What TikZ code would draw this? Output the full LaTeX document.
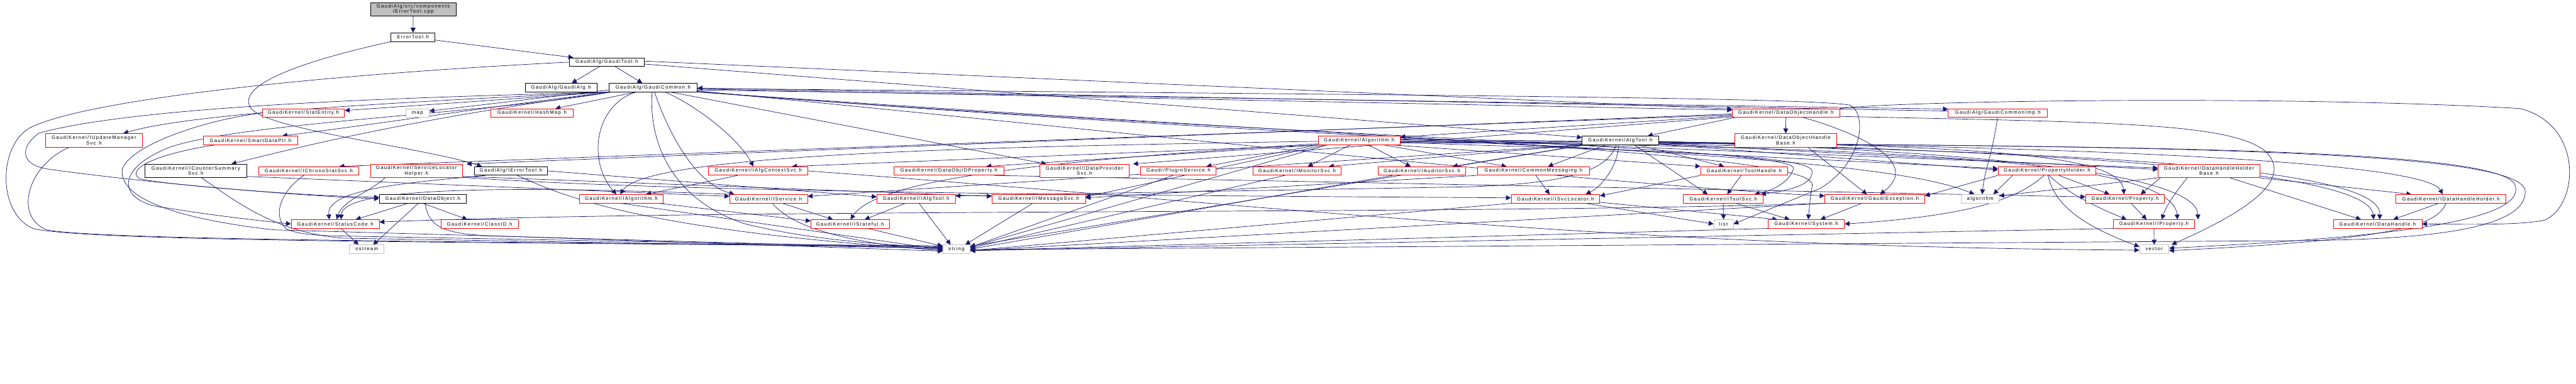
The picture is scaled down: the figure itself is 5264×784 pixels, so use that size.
\documentclass[tikz,border=0pt]{standalone}
\usepackage{fontspec}
\usepackage{tikz}
\usetikzlibrary{arrows.meta, calc, positioning, backgrounds}
\newfontfamily\gfont[LetterSpace=16]{Liberation Sans}
\definecolor{eBlue}{HTML}{191970}
\definecolor{nRed}{HTML}{FF0000}
\definecolor{nGrey}{HTML}{BFBFBF}

\begin{document}
\begin{tikzpicture}[x=1pt, y=-1pt,
    inc/.style={draw=eBlue, line width=0.9pt, -{Triangle[length=10pt, width=10pt]}},
    hdr/.style={draw=nRed, line width=0.9pt, fill=white, inner sep=0pt, minimum height=17.5pt,
                align=center, font=\gfont\fontsize{10}{10.7}\selectfont},
    hdrk/.style={hdr, draw=black},
    hstd/.style={hdr, draw=nGrey},
    hroot/.style={hdr, draw=black, fill=nGrey},
    two/.style={minimum height=27.5pt}]
  \useasboundingbox (0,0) rectangle (5264,784);

  % top of the graph
  \node[hroot, two, minimum width=175pt] (cpp) at (844.5,19) {GaudiAlg/src/components\\/ErrorTool.cpp};
  \node[hdrk, minimum width=90pt]  (eth)   at (844,76)     {ErrorTool.h};
  \node[hdrk, minimum width=152pt] (gtool) at (1240,127)   {GaudiAlg/GaudiTool.h};
  \node[hdrk, minimum width=147pt] (galg)  at (1146.5,179) {GaudiAlg/GaudiAlg.h};
  \node[hdrk, minimum width=181pt] (gcom)  at (1334.5,179) {GaudiAlg/GaudiCommon.h};

  \node[hdr, minimum width=168pt]  (statent) at (620,231)    {GaudiKernel/StatEntity.h};
  \node[hstd, minimum width=48pt]  (map)     at (853,231)    {map};
  \node[hdr, minimum width=168pt]  (hashmap) at (1087,231)   {GaudiKernel/HashMap.h};
  \node[hdr, minimum width=219pt]  (doh)     at (3649.5,231) {GaudiKernel/DataObjectHandle.h};
  \node[hdr, minimum width=203pt]  (gcimp)   at (4082.5,231) {GaudiAlg/GaudiCommonImp.h};

  \node[hdr, two, minimum width=198pt] (iupd) at (192,287) {GaudiKernel/IUpdateManager\\Svc.h};
  \node[hdr, minimum width=192pt]  (sdp)     at (512,287)    {GaudiKernel/SmartDataPtr.h};
  \node[hdr, minimum width=167pt]  (algo)    at (2777.5,287) {GaudiKernel/Algorithm.h};
  \node[hdrk, minimum width=156pt] (algtool) at (3311,287)   {GaudiKernel/AlgTool.h};
  \node[hdr, two, minimum width=208pt] (dohb) at (3649,287) {GaudiKernel/DataObjectHandle\\Base.h};

  % middle rows
  \node[hdrk, two, minimum width=208pt] (icss) at (400,349.5) {GaudiKernel/ICounterSummary\\Svc.h};
  \node[hdr, minimum width=204pt]  (ichrono) at (631,349.5)  {GaudiKernel/IChronoStatSvc.h};
  \node[hdr, two, minimum width=188pt] (slh) at (851,349.5)  {GaudiKernel/ServiceLocator\\Helper.h};
  \node[hdrk, minimum width=150pt] (ierr)    at (1044,349.5) {GaudiAlg/IErrorTool.h};
  \node[hdr, minimum width=203pt]  (iactx)   at (1549.5,349.5) {GaudiKernel/IAlgContextSvc.h};
  \node[hdr, minimum width=224pt]  (doidp)   at (1939,349.5) {GaudiKernel/DataObjIDProperty.h};
  \node[hdr, two, minimum width=182pt] (idps) at (2216,349.5) {GaudiKernel/IDataProvider\\Svc.h};
  \node[hdr, minimum width=154pt]  (plugin)  at (2408,349.5) {Gaudi/PluginService.h};
  \node[hdr, minimum width=181pt]  (imon)    at (2650.5,349.5) {GaudiKernel/IMonitorSvc.h};
  \node[hdr, minimum width=179pt]  (iaud)    at (2905.5,349.5) {GaudiKernel/IAuditorSvc.h};
  \node[hdr, minimum width=229pt]  (cmsg)    at (3133.5,349.5) {GaudiKernel/CommonMessaging.h};
  \node[hdr, minimum width=178pt]  (thdl)    at (3564,349.5) {GaudiKernel/ToolHandle.h};
  \node[hdr, minimum width=200pt]  (propholder) at (4183,349.5) {GaudiKernel/PropertyHolder.h};
  \node[hdr, two, minimum width=208pt] (dhhb) at (4514,349.5) {GaudiKernel/DataHandleHolder\\Base.h};

  \node[hdrk, minimum width=178pt] (dobj)     at (864,406.5)    {GaudiKernel/DataObject.h};
  \node[hdr, minimum width=171pt]  (ialg)     at (1269.5,406.5) {GaudiKernel/IAlgorithm.h};
  \node[hdr, minimum width=159pt]  (isvc)     at (1570.5,406.5) {GaudiKernel/IService.h};
  \node[hdr, minimum width=160pt]  (ialgtool) at (1872,406.5)   {GaudiKernel/IAlgTool.h};
  \node[hdr, minimum width=191pt]  (imsg)     at (2122.5,406.5) {GaudiKernel/IMessageSvc.h};
  \node[hdr, minimum width=181pt]  (isvcloc)  at (3178.5,406.5) {GaudiKernel/ISvcLocator.h};
  \node[hdr, minimum width=163pt]  (itoolsvc) at (3521.5,406.5) {GaudiKernel/IToolSvc.h};
  \node[hdr, minimum width=204pt]  (gexc)     at (3831,406.5)   {GaudiKernel/GaudiException.h};
  \node[hstd, minimum width=77pt]  (algorithm) at (4046.5,406.5) {algorithm};
  \node[hdr, minimum width=161pt]  (prop)     at (4342.5,406.5) {GaudiKernel/Property.h};
  \node[hdr, minimum width=225pt]  (idhh)     at (5008.5,406.5) {GaudiKernel/IDataHandleHolder.h};

  % bottom rows
  \node[hdr, minimum width=180pt]  (sc)     at (685,458)    {GaudiKernel/StatusCode.h};
  \node[hdr, minimum width=158pt]  (clid)   at (980,458)    {GaudiKernel/ClassID.h};
  \node[hdr, minimum width=160pt]  (istate) at (1737,458)   {GaudiKernel/IStateful.h};
  \node[hstd, minimum width=40pt]  (list)   at (3522,458)   {list};
  \node[hdr, minimum width=156pt]  (sys)    at (3691,458)   {GaudiKernel/System.h};
  \node[hdr, minimum width=165pt]  (iprop)  at (4401.5,458) {GaudiKernel/IProperty.h};
  \node[hdr, minimum width=181pt]  (dh)     at (4858.5,458) {GaudiKernel/DataHandle.h};

  \node[hstd, minimum width=71pt]  (ostream) at (749.5,509.5) {ostream};
  \node[hstd, minimum width=55pt]  (string)  at (1954.5,509.5) {string};
  \node[hstd, minimum width=60pt]  (vector)  at (4402,509.5) {vector};

  \begin{scope}[on background layer]
    % source file and GaudiTool
    \draw[inc] (cpp) -- (eth);
    \draw[inc] ($(eth.east)+(0,6)$) -- ($(gtool.north west)+(8,0)$);
    \draw[inc] (eth.south west) .. controls (640,120) and (480,170) .. (512,220)
               .. controls (540,265) and (860,300) .. ($(ierr.north west)+(16,0)$);
    \draw[inc] ($(gtool.south)+(-15,0)$) -- ($(galg.north)+(22,0)$);
    \draw[inc] ($(gtool.south)+(17,0)$) -- ($(gcom.north)+(-22,0)$);
    \draw[inc] ($(gtool.east)+(0,4)$) -- ($(algtool.west)+(0,-6)$);
    \draw[inc] ($(gtool.east)+(0,-2)$) -- ($(doh.west)+(0,-8)$);
    \draw[inc] (gtool.west) .. controls (700,150) and (180,200) .. (60,262)
               .. controls (-5,300) and (-5,440) .. (70,468)
               .. controls (200,495) and (1000,495) .. ($(string.west)+(0,-5)$);

    % GaudiCommon
    \draw[inc] ($(gcom.south west)+(2,0)$) -- ($(statent.east)+(0,-5)$);
    \draw[inc] ($(gcom.west)+(0,5)$) -- ($(map.east)+(0,-4)$);
    \draw[inc] ($(gcom.south)+(-34,0)$) -- ($(hashmap.north)+(48,0)$);
    \draw[inc] ($(gcom.south west)+(4,0)$) .. controls (1000,218) and (800,250) .. ($(sdp.north)+(65,0)$);
    \draw[inc] ($(gcom.south west)+(6,0)$) .. controls (1000,222) and (760,262) .. ($(icss.north)+(73,0)$);
    \draw[inc] ($(gcom.south west)+(1,0)$) .. controls (900,205) and (400,228) .. ($(iupd.north)+(60,0)$);
    \draw[inc] ($(gcom.south west)+(3,0)$) .. controls (900,198) and (300,212) .. (80,272)
               .. controls (40,300) and (40,338) .. (100,346)
               .. controls (300,374) and (600,400) .. (dobj.west);
    \draw[inc] ($(gcom.south west)+(5,0)$) .. controls (1000,232) and (500,250) .. (350,300)
               .. controls (230,345) and (240,415) .. (340,425)
               .. controls (430,440) and (520,450) .. (sc.west);
    \draw[inc] ($(gcom.south)+(25,0)$) .. controls (1430,220) and (1510,285) .. ($(iactx.north)+(-10,0)$);
    \draw[inc] ($(gcom.south)+(3,0)$) .. controls (1365,270) and (1420,375) .. ($(isvc.north)+(-70,0)$);
    \draw[inc] ($(gcom.south)+(-35,0)$) .. controls (1215,215) and (1200,330) .. ($(ialg.north)+(-10,0)$);
    \draw[inc] ($(gcom.south)+(-2,0)$) .. controls (1325,300) and (1380,410) .. (1520,457)
               .. controls (1650,490) and (1800,500) .. ($(string.west)+(0,-3)$);
    \draw[inc] ($(gcom.south)+(35,0)$) -- ($(idps.north)+(-78,0)$);
    \draw[inc] ($(gcom.east)+(0,3)$) -- ($(doh.west)+(0,-6)$);
    \draw[inc] ($(gcom.east)+(0,5)$) -- ($(gcimp.west)+(0,-8)$);
    \draw[inc] ($(gcom.east)+(0,7)$) .. controls (2200,260) and (3300,380) .. ($(gexc.west)+(0,-6)$);
    \draw[inc] ($(gcom.east)+(0,8)$) .. controls (2800,300) and (3800,300) .. ($(algorithm.north)+(-12,0)$);
    \draw[inc] ($(gcom.east)+(0,9)$) .. controls (2600,280) and (3680,300) .. (3665,345)
               .. controls (3655,375) and (3620,390) .. ($(itoolsvc.north east)+(-18,0)$);
    \draw[inc] ($(gcom.east)+(0,9)$) .. controls (2800,285) and (3720,310) .. (3703,380)
               .. controls (3698,410) and (3697,430) .. ($(sys.north)+(4,0)$);
    \draw[inc] ($(gcom.east)+(0,2)$) .. controls (3000,195) and (3700,200) .. (3780,215)
               .. controls (3815,230) and (3810,330) .. (3720,385) -- (list.east);

    % GaudiCommonImp
    \draw[inc] ($(gcimp.west)+(0,-4)$) -- ($(gcom.east)+(0,1)$);
    \draw[inc] ($(gcimp.south)+(-1,0)$) .. controls (4075,300) and (4055,350) .. ($(algorithm.north)+(4,0)$);

    % DataObjectHandle
    \draw[inc] (doh) -- (dohb);
    \draw[inc] ($(doh.west)+(0,6)$) -- ($(algo.east)+(0,-7)$);
    \draw[inc] ($(doh.south west)+(6,0)$) -- ($(algtool.north)+(56,0)$);
    \draw[inc] ($(doh.west)+(0,8)$) -- ($(idps.north east)+(8,0)$);
    \draw[inc] ($(doh.west)+(0,2)$) -- ($(slh.north east)+(8,0)$);
    \draw[inc] ($(doh.west)+(0,4)$) -- ($(ichrono.north east)+(-40,0)$);
    \draw[inc] ($(doh.south)+(35,0)$) .. controls (3790,270) and (3930,330) .. ($(gexc.north)+(11,0)$);
    \draw[inc] (doh.north east) .. controls (3900,205) and (4700,195) .. (5150,222)
               .. controls (5280,255) and (5270,420) .. (5200,450)
               .. controls (5150,462) and (5000,458) .. (dh.east);
    \draw[inc] ($(doh.east)+(0,7)$) .. controls (4300,250) and (4560,250) .. (4630,310)
               .. controls (4680,360) and (4620,420) .. ($(vector.north east)+(5,0)$);
    \draw[inc] ($(dohb.south)+(45,0)$) -- ($(gexc.north)+(-16,0)$);

    % Algorithm
    \draw[inc] ($(algo.south)+(-18,0)$) -- ($(imon.north)+(22,0)$);
    \draw[inc] ($(algo.south)+(18,0)$) -- ($(iaud.north)+(-23,0)$);
    \draw[inc] ($(algo.south east)+(-35,0)$) -- ($(cmsg.north)+(-55,0)$);
    \draw[inc] ($(algo.south east)+(-20,0)$) -- (thdl.north west);
    \draw[inc] ($(algo.east)+(0,-3)$) -- ($(propholder.west)+(0,-5)$);
    \draw[inc] ($(algo.east)+(0,-5)$) -- ($(dhhb.west)+(0,-6)$);
    \draw[inc] ($(algo.south west)+(10,0)$) -- ($(iactx.north east)+(-33,0)$);
    \draw[inc] ($(algo.south west)+(4,0)$) -- ($(doidp.north east)+(-36,0)$);
    \draw[inc] (algo.south west) -- ($(plugin.north east)+(-20,0)$);
    \draw[inc] ($(algo.west)+(0,2)$) .. controls (2000,300) and (1320,315) .. ($(ialg.north)+(-2,0)$);
    \draw[inc] ($(algo.west)+(0,7)$) .. controls (2100,330) and (1790,370) .. ($(istate.north)+(1,0)$);
    \draw[inc] ($(algo.south west)+(15,0)$) -- ($(imsg.east)+(0,-4)$);
    \draw[inc] ($(algo.south west)+(20,0)$) -- ($(string.east)+(0,-4)$);
    \draw[inc] ($(algo.east)+(0,4)$) .. controls (3200,305) and (3700,310) .. (3703,350)
               .. controls (3705,380) and (3650,390) .. ($(itoolsvc.north east)+(-5,0)$);
    \draw[inc] ($(algo.east)+(0,2)$) .. controls (3900,290) and (4330,300) .. ($(prop.north)+(-2,0)$);
    \draw[inc] ($(algo.east)+(0,3)$) .. controls (3900,300) and (4440,330) .. ($(iprop.north)+(48,0)$);
    \draw[inc] ($(algo.east)+(0,-1)$) .. controls (4000,290) and (4950,320) .. ($(idhh.north)+(-17,0)$);
    \draw[inc] ($(algo.east)+(0,1)$) .. controls (4100,300) and (4870,330) .. ($(dh.north)+(4,0)$);
    \draw[inc] ($(algo.east)+(0,5)$) .. controls (4300,295) and (5150,300) .. (5160,390)
               .. controls (5165,470) and (4950,490) .. (4700,492) -- ($(string.east)+(0,1)$);

    % AlgTool
    \draw[inc] ($(algtool.south)+(-30,0)$) -- ($(cmsg.north)+(30,0)$);
    \draw[inc] ($(algtool.south)+(35,0)$) -- ($(thdl.north)+(-41,0)$);
    \draw[inc] ($(algtool.south)+(-3,0)$) .. controls (3305,340) and (3275,380) .. ($(isvcloc.north)+(62,0)$);
    \draw[inc] ($(algtool.south)+(-8,0)$) .. controls (3285,345) and (3220,375) .. (3000,382)
               -- ($(ialgtool.east)+(0,-6)$);
    \draw[inc] ($(algtool.south east)+(-50,0)$) -- ($(itoolsvc.north)+(-32,0)$);
    \draw[inc] (algtool.south west) -- ($(imon.north east)+(-26,0)$);
    \draw[inc] ($(algtool.south west)+(5,0)$) -- ($(iaud.north east)+(-27,0)$);
    \draw[inc] ($(algtool.east)+(0,8)$) -- ($(propholder.west)+(0,-2)$);
    \draw[inc] ($(algtool.east)+(0,7)$) -- ($(dhhb.west)+(0,-3)$);
    \draw[inc] ($(algtool.south west)+(-2,0)$) -- ($(isvc.east)+(0,-5)$);
    \draw[inc] ($(algtool.east)+(0,3)$) .. controls (4100,310) and (4490,360) .. ($(iprop.north)+(90,0)$);
    \draw[inc] ($(algtool.east)+(0,2)$) .. controls (4100,310) and (4840,340) .. ($(dh.north)+(-8,0)$);
    \draw[inc] ($(algtool.south west)+(8,0)$) -- ($(string.east)+(0,-6)$);
    \draw[inc] ($(algtool.east)+(0,5)$) .. controls (4300,300) and (5120,300) .. (5140,380)
               .. controls (5160,450) and (4900,485) .. ($(vector.east)+(0,-2)$);

    % service and tool interfaces
    \draw[inc] ($(thdl.south)+(-6,0)$) -- ($(itoolsvc.north)+(8,0)$);
    \draw[inc] (thdl.south west) -- ($(isvcloc.east)+(0,-6)$);
    \draw[inc] ($(cmsg.south)+(5,0)$) -- ($(isvcloc.north)+(-12,0)$);
    \draw[inc] (cmsg.south west) -- ($(imsg.east)+(0,-2)$);
    \draw[inc] ($(isvcloc.south east)+(-30,0)$) -- (list.west);
    \draw[inc] (itoolsvc) -- (list);
    \draw[inc] ($(isvcloc.south east)+(0,-2)$) -- ($(sys.north)+(-59,0)$);
    \draw[inc] ($(itoolsvc.south)+(25,0)$) -- ($(sys.north)+(-34,0)$);
    \draw[inc] ($(gexc.south)+(-26,0)$) -- ($(sys.north)+(29,0)$);
    \draw[inc] (gexc.south west) .. controls (3000,440) and (1500,425) .. ($(sc.east)+(0,-4)$);

    % property side
    \draw[inc] ($(propholder.south west)+(30,0)$) -- ($(algorithm.north east)+(-12,0)$);
    \draw[inc] ($(propholder.south)+(24,0)$) -- ($(prop.north)+(-32,0)$);
    \draw[inc] ($(propholder.south)+(4,0)$) .. controls (4230,400) and (4300,430) .. ($(iprop.north)+(-56,0)$);
    \draw[inc] ($(propholder.south)+(2,0)$) .. controls (4200,430) and (4280,470) .. ($(vector.west)+(0,-5)$);
    \draw[inc] ($(propholder.south)+(-6,0)$) .. controls (4130,400) and (4050,440) .. (sys.east);
    \draw[inc] (propholder.south west) -- ($(gexc.east)+(0,-6)$);
    \draw[inc] ($(doidp.south east)+(-20,0)$) -- ($(prop.west)+(0,-4)$);
    \draw[inc] ($(prop.south)+(12,0)$) -- ($(iprop.north)+(-15,0)$);
    \draw[inc] (iprop) -- (vector);
    \draw[inc] (dhhb.south west) -- ($(algorithm.east)+(0,-6)$);
    \draw[inc] ($(dhhb.south west)+(5,0)$) -- ($(prop.north)+(32,0)$);
    \draw[inc] ($(dhhb.south west)+(60,0)$) .. controls (4440,400) and (4425,425) .. ($(iprop.north)+(16,0)$);
    \draw[inc] (dhhb.south east) -- ($(idhh.north west)+(32,0)$);
    \draw[inc] ($(dhhb.south)+(43,0)$) -- ($(dh.north)+(-34,0)$);
    \draw[inc] ($(idhh.south)+(-25,0)$) -- ($(dh.north)+(32,0)$);
    \draw[inc] ($(idhh.south)+(-10,0)$) .. controls (4980,460) and (4900,490) .. ($(vector.east)+(0,3)$);
    \draw[inc] (iactx.east) .. controls (2600,420) and (3300,505) .. ($(vector.west)+(0,2)$);

    % left side headers
    \draw[inc] (statent.west) .. controls (420,245) and (270,295) .. (250,345)
               .. controls (240,410) and (380,450) .. (560,470) -- ($(string.west)+(0,-1)$);
    \draw[inc] ($(iupd.south)+(-50,0)$) .. controls (60,335) and (25,440) .. (95,470)
               .. controls (200,490) and (900,495) .. ($(string.west)+(0,-7)$);
    \draw[inc] ($(sdp.south west)+(25,0)$) .. controls (300,318) and (260,350) .. (285,365)
               .. controls (310,375) and (600,400) .. ($(dobj.west)+(0,-3)$);
    \draw[inc] ($(icss.south)+(12,0)$) .. controls (480,410) and (560,475) .. (700,487)
               -- ($(string.west)+(0,-2)$);
    \draw[inc] ($(icss.south east)+(0,-3)$) -- ($(isvc.west)+(0,-5)$);
    \draw[inc] ($(ichrono.south)+(-10,0)$) .. controls (575,390) and (555,440) .. (585,468)
               .. controls (610,480) and (650,482) .. (720,483) -- ($(string.west)+(0,-4)$);
    \draw[inc] ($(slh.south east)+(0,-3)$) -- ($(imsg.west)+(0,-5)$);
    \draw[inc] ($(slh.south east)+(0,-1)$) .. controls (1400,395) and (2400,400) .. ($(isvcloc.west)+(0,-2)$);
    \draw[inc] ($(slh.south west)+(30,0)$) .. controls (760,390) and (700,410) .. ($(sc.north)+(3,0)$);
    \draw[inc] (ierr.east) -- ($(ialgtool.west)+(0,-4)$);
    \draw[inc] ($(ierr.south)+(13,0)$) .. controls (1150,400) and (1300,470) .. ($(string.west)+(0,2)$);
    \draw[inc] ($(ierr.south west)+(24,0)$) .. controls (850,372) and (665,385) .. ($(sc.north)+(-12,0)$);
    \draw[inc] (isvc.north west) .. controls (1000,378) and (700,385) .. ($(sc.north)+(12,0)$);
    \draw[inc] ($(dobj.south)+(-30,0)$) -- ($(sc.north)+(42,0)$);
    \draw[inc] ($(dobj.south)+(-9,0)$) -- ($(ostream.north)+(13,0)$);
    \draw[inc] (dobj.south) -- ($(clid.north)+(-25,0)$);
    \draw[inc] ($(dobj.south)+(5,0)$) .. controls (875,460) and (900,478) .. (1000,482)
               -- ($(string.west)+(0,4)$);
    \draw[inc] ($(sc.south)+(12,0)$) -- ($(ostream.north)+(-17,0)$);

    % interfaces near string
    \draw[inc] ($(iactx.south west)+(60,0)$) -- ($(ialg.north east)+(-35,0)$);
    \draw[inc] ($(ialg.south east)+(-10,0)$) -- ($(istate.west)+(0,-6)$);
    \draw[inc] ($(isvc.south)+(28,0)$) -- ($(istate.north)+(-35,0)$);
    \draw[inc] ($(ialgtool.south)+(-22,0)$) -- ($(istate.north)+(30,0)$);
    \draw[inc] ($(ialg.south)+(-1,0)$) -- ($(string.west)+(0,1)$);
    \draw[inc] ($(isvc.south)+(8,0)$) .. controls (1610,455) and (1700,495) .. ($(string.west)+(0,3)$);
    \draw[inc] ($(istate.south)+(36,0)$) -- ($(string.west)+(0,-6)$);
    \draw[inc] ($(ialgtool.south)+(6,0)$) -- ($(string.north)+(-12,0)$);
    \draw[inc] ($(imsg.south)+(-12,0)$) -- ($(string.north)+(18,0)$);
    \draw[inc] ($(plugin.south)+(-11,0)$) -- ($(string.east)+(0,-4)$);
    \draw[inc] ($(imon.south)+(-25,0)$) -- ($(string.east)+(0,-2)$);
    \draw[inc] ($(iaud.south west)+(30,0)$) -- (string.east);
    \foreach \s in {gexc, isvcloc, sys, iprop}
      \draw[inc] (\s.south west) -- ($(string.east)+(0,3)$);
  \end{scope}
\end{tikzpicture}
\end{document}
